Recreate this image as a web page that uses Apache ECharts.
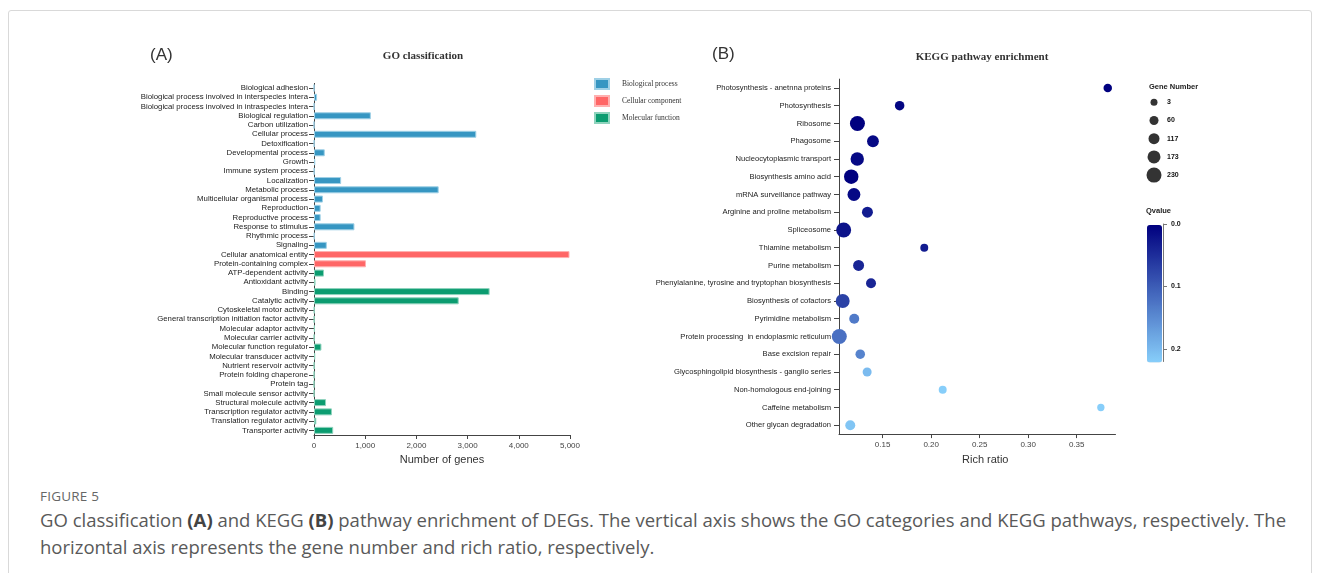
<!DOCTYPE html>
<html>
<head>
<meta charset="utf-8">
<script src="https://cdn.jsdelivr.net/npm/echarts@6/dist/echarts.min.js"></script>
<style>
  html, body { margin: 0; padding: 0; background: #fff; width: 1322px; height: 573px; overflow: hidden; }
  #frame { position: absolute; left: 8px; top: 10px; width: 1302px; height: 600px; border: 1px solid #d9d9d9; border-radius: 3px; }
  #chart { position: absolute; left: 0; top: 0; width: 1322px; height: 480px; }
  #caption { position: absolute; left: 40px; top: 486px; font-family: 'Open Sans', sans-serif; color: #595959; white-space: nowrap; }
  #caption .fig { font-size: 13.5px; color: #666; letter-spacing: 0.2px; line-height: 20px; }
  #caption .txt { font-size: 18.5px; line-height: 27px; margin-top: 0; }
  #caption b { color: #444; }
</style>
</head>
<body>
<div id="frame"></div>
<div id="chart"></div>
<div id="caption">
  <div class="fig">FIGURE 5</div>
  <div class="txt">GO classification <b>(A)</b> and KEGG <b>(B)</b> pathway enrichment of DEGs. The vertical axis shows the GO categories and KEGG pathways, respectively. The<br>horizontal axis represents the gene number and rich ratio, respectively.</div>
</div>
<script>
// ---- GO classification: terms and gene counts per ontology ----
const bpTerms = [
  'Biological adhesion',
  'Biological process involved in interspecies intera',
  'Biological process involved in intraspecies intera',
  'Biological regulation',
  'Carbon utilization',
  'Cellular process',
  'Detoxification',
  'Developmental process',
  'Growth',
  'Immune system process',
  'Localization',
  'Metabolic process',
  'Multicellular organismal process',
  'Reproduction',
  'Reproductive process',
  'Response to stimulus',
  'Rhythmic process',
  'Signaling'
];
const bpCounts = [2, 60, 3, 1110, 1, 3170, 4, 210, 25, 6, 530, 2435, 175, 130, 130, 790, 8, 250];

const ccTerms = ['Cellular anatomical entity', 'Protein-containing complex'];
const ccCounts = [4990, 1015];

const mfTerms = [
  'ATP-dependent activity',
  'Antioxidant activity',
  'Binding',
  'Catalytic activity',
  'Cytoskeletal motor activity',
  'General transcription initiation factor activity',
  'Molecular adaptor activity',
  'Molecular carrier activity',
  'Molecular function regulator',
  'Molecular transducer activity',
  'Nutrient reservoir activity',
  'Protein folding chaperone',
  'Protein tag',
  'Small molecule sensor activity',
  'Structural molecule activity',
  'Transcription regulator activity',
  'Translation regulator activity',
  'Transporter activity'
];
const mfCounts = [195, 30, 3430, 2826, 8, 6, 15, 6, 145, 25, 4, 3, 1, 2, 235, 350, 45, 375];

const goGroups = ['Biological process', 'Cellular component', 'Molecular function'];
const goTicks = [0, 1000, 2000, 3000, 4000, 5000];

// ---- KEGG enrichment ----
const keggPathways = [
  'Photosynthesis - anetnna proteins',
  'Photosynthesis',
  'Ribosome',
  'Phagosome',
  'Nucleocytoplasmic transport',
  'Biosynthesis amino acid',
  'mRNA surveillance pathway',
  'Arginine and proline metabolism',
  'Spliceosome',
  'Thiamine metabolism',
  'Purine metabolism',
  'Phenylalanine, tyrosine and tryptophan biosynthesis',
  'Biosynthesis of cofactors',
  'Pyrimidine metabolism',
  'Protein processing  in endoplasmic reticulum',
  'Base excision repair',
  'Glycosphingolipid biosynthesis - ganglio series',
  'Non-homologous end-joining',
  'Caffeine metabolism',
  'Other glycan degradation'
];
const keggRichRatio = [0.382, 0.1675, 0.124, 0.140, 0.1238, 0.1176, 0.1204, 0.1343, 0.1098, 0.1929,
                       0.1252, 0.1380, 0.1088, 0.1207, 0.1053, 0.1269, 0.1340, 0.2119, 0.3749, 0.1166];
const keggGeneNumber = [45, 75, 230, 140, 185, 215, 170, 115, 230, 30,
                        115, 88, 200, 88, 230, 75, 60, 30, 12, 88];
const keggQvalue = [0.0, 0.005, 0.0, 0.01, 0.01, 0.0, 0.01, 0.03, 0.02, 0.03,
                    0.04, 0.04, 0.07, 0.13, 0.12, 0.14, 0.20, 0.22, 0.22, 0.21];
const richTicks = [0.15, 0.20, 0.25, 0.30, 0.35];
const geneLegendValues = [3, 60, 117, 173, 230];
const qTicks = [0.0, 0.1, 0.2];

// ---- styling ----
const SANS = '"Liberation Sans", Arial, sans-serif';
const SERIF = '"Liberation Serif", "Times New Roman", serif';
const AXIS_COLOR = '#444';
const goColors = ['#3696c2', '#ff6666', '#0b9c70'];
const goBorders = ['#9fd0e6', '#ffb0b0', '#8fd3bd'];

const goCategories = bpTerms.concat(ccTerms, mfTerms);
const goLists = [[bpTerms, bpCounts], [ccTerms, ccCounts], [mfTerms, mfCounts]];

// circle diameter for a gene count
const geneSize = n => 7 + 8 * (n - 3) / 227;

const keggData = keggPathways.map((p, i) => [keggRichRatio[i], p, keggGeneNumber[i], keggQvalue[i]]);

const chart = echarts.init(document.getElementById('chart'), null, { renderer: 'canvas' });

const goSeries = goLists.map(([terms, counts], g) => ({
  name: goGroups[g],
  type: 'bar',
  xAxisIndex: 0,
  yAxisIndex: 0,
  barWidth: 7,
  barGap: '-100%',
  itemStyle: { color: goColors[g], borderColor: goBorders[g], borderWidth: 1 },
  data: terms.map((t, i) => [counts[i], t]),
  z: 3
}));

const titleBase = { padding: 0 };
const option = {
  animation: false,
  textStyle: { fontFamily: SANS },
  title: [
    Object.assign({ text: '(A)', left: 150, top: 47,
      textStyle: { fontFamily: SANS, fontSize: 17, fontWeight: 'normal', color: '#333' } }, titleBase),
    Object.assign({ text: 'GO classification', left: 423, top: 51, textAlign: 'center',
      textStyle: { fontFamily: SERIF, fontSize: 11, fontWeight: 'bold', color: '#333' } }, titleBase),
    Object.assign({ text: '(B)', left: 712, top: 46,
      textStyle: { fontFamily: SANS, fontSize: 17, fontWeight: 'normal', color: '#333' } }, titleBase),
    Object.assign({ text: 'KEGG pathway enrichment', left: 982, top: 52, textAlign: 'center',
      textStyle: { fontFamily: SERIF, fontSize: 11, fontWeight: 'bold', color: '#333' } }, titleBase),
    Object.assign({ text: 'Gene Number', left: 1149, top: 83,
      textStyle: { fontFamily: SANS, fontSize: 7.5, fontWeight: 'bold', color: '#222' } }, titleBase),
    Object.assign({ text: 'Qvalue', left: 1146, top: 207,
      textStyle: { fontFamily: SANS, fontSize: 7.5, fontWeight: 'bold', color: '#222' } }, titleBase)
  ],
  legend: {
    data: goGroups,
    orient: 'vertical',
    left: 594,
    top: 78,
    padding: 0,
    itemWidth: 14,
    itemHeight: 10,
    itemGap: 5,
    icon: 'rect',
    selectedMode: false,
    textStyle: { fontFamily: SERIF, fontSize: 7.5, color: '#333', padding: [0, 0, 0, 8] }
  },
  grid: [
    { left: 314, top: 83.4, width: 256, height: 351.6 },
    { left: 839, top: 79.1, width: 276.5, height: 355 },
    { left: 1147, top: 93.2, width: 14, height: 91 },
    { left: 1147, top: 224, width: 16, height: 137.5 }
  ],
  xAxis: [
    {
      gridIndex: 0, type: 'value', min: 0, max: 5000,
      name: 'Number of genes', nameLocation: 'middle', nameGap: 19,
      nameTextStyle: { fontFamily: SANS, fontSize: 11, color: '#333' },
      splitLine: { show: false },
      axisLine: { show: true, lineStyle: { color: AXIS_COLOR } },
      axisTick: { show: true, length: 4, lineStyle: { color: AXIS_COLOR }, customValues: goTicks },
      axisLabel: { fontSize: 8, color: '#444', margin: 7, customValues: goTicks,
                   formatter: v => v.toLocaleString('en-US') }
    },
    {
      gridIndex: 1, type: 'value', min: 0.105, max: 0.39,
      name: 'Rich ratio', nameLocation: 'middle', nameGap: 19,
      nameTextStyle: { fontFamily: SANS, fontSize: 11, color: '#333', padding: [0, 0, 0, 16] },
      splitLine: { show: false },
      axisLine: { show: true, lineStyle: { color: AXIS_COLOR } },
      axisTick: { show: true, length: 4, lineStyle: { color: AXIS_COLOR }, customValues: richTicks },
      axisLabel: { fontSize: 8, color: '#444', margin: 7, customValues: richTicks,
                   formatter: v => v.toFixed(2) }
    },
    { gridIndex: 2, type: 'value', min: -1, max: 1, show: false },
    { gridIndex: 3, type: 'value', min: 0, max: 1, show: false }
  ],
  yAxis: [
    {
      gridIndex: 0, type: 'category', data: goCategories, inverse: true,
      axisLine: { show: true, lineStyle: { color: AXIS_COLOR } },
      axisTick: { show: true, alignWithLabel: true, length: 5, lineStyle: { color: AXIS_COLOR } },
      axisLabel: { interval: 0, fontSize: 7.8, color: '#222', margin: 6 }
    },
    {
      gridIndex: 1, type: 'category', data: keggPathways, inverse: true,
      axisLine: { show: true, lineStyle: { color: AXIS_COLOR } },
      axisTick: { show: true, alignWithLabel: true, length: 5, lineStyle: { color: AXIS_COLOR } },
      axisLabel: { interval: 0, fontSize: 7.6, color: '#222', margin: 8 }
    },
    {
      gridIndex: 2, type: 'category', data: geneLegendValues.map(String), inverse: true, position: 'right',
      axisLine: { show: false, onZero: false }, axisTick: { show: false },
      axisLabel: { fontSize: 7, fontWeight: 'bold', color: '#111', margin: 6 }
    },
    {
      gridIndex: 3, type: 'value', min: 0, max: 0.22, inverse: true, position: 'right',
      splitLine: { show: false },
      axisLine: { show: true, onZero: false, lineStyle: { color: '#777' } },
      axisTick: { show: true, length: 4, lineStyle: { color: '#777' }, customValues: qTicks },
      axisLabel: { fontSize: 7, fontWeight: 'bold', color: '#111', margin: 8, customValues: qTicks,
                   formatter: v => v.toFixed(1) }
    }
  ],
  visualMap: {
    type: 'continuous',
    seriesIndex: 3,
    dimension: 3,
    min: 0,
    max: 0.22,
    inverse: true,
    orient: 'vertical',
    left: 1132,
    top: 210,
    itemWidth: 15,
    itemHeight: 137.5,
    calculable: false,
    hoverLink: false,
    inRange: { color: ['#00007f', '#87cefa'] }
  },
  series: goSeries.concat([
    {
      name: 'KEGG',
      type: 'scatter',
      xAxisIndex: 1,
      yAxisIndex: 1,
      symbol: 'circle',
      symbolSize: d => geneSize(d[2]),
      itemStyle: { opacity: 1 },
      data: keggData,
      z: 5
    },
    {
      name: 'Gene Number',
      type: 'scatter',
      xAxisIndex: 2,
      yAxisIndex: 2,
      symbol: 'circle',
      symbolSize: d => geneSize(Number(d[1])),
      itemStyle: { color: '#000' },
      data: geneLegendValues.map(v => [0, String(v)])
    }
  ])
};

chart.setOption(option);
</script>
</body>
</html>
